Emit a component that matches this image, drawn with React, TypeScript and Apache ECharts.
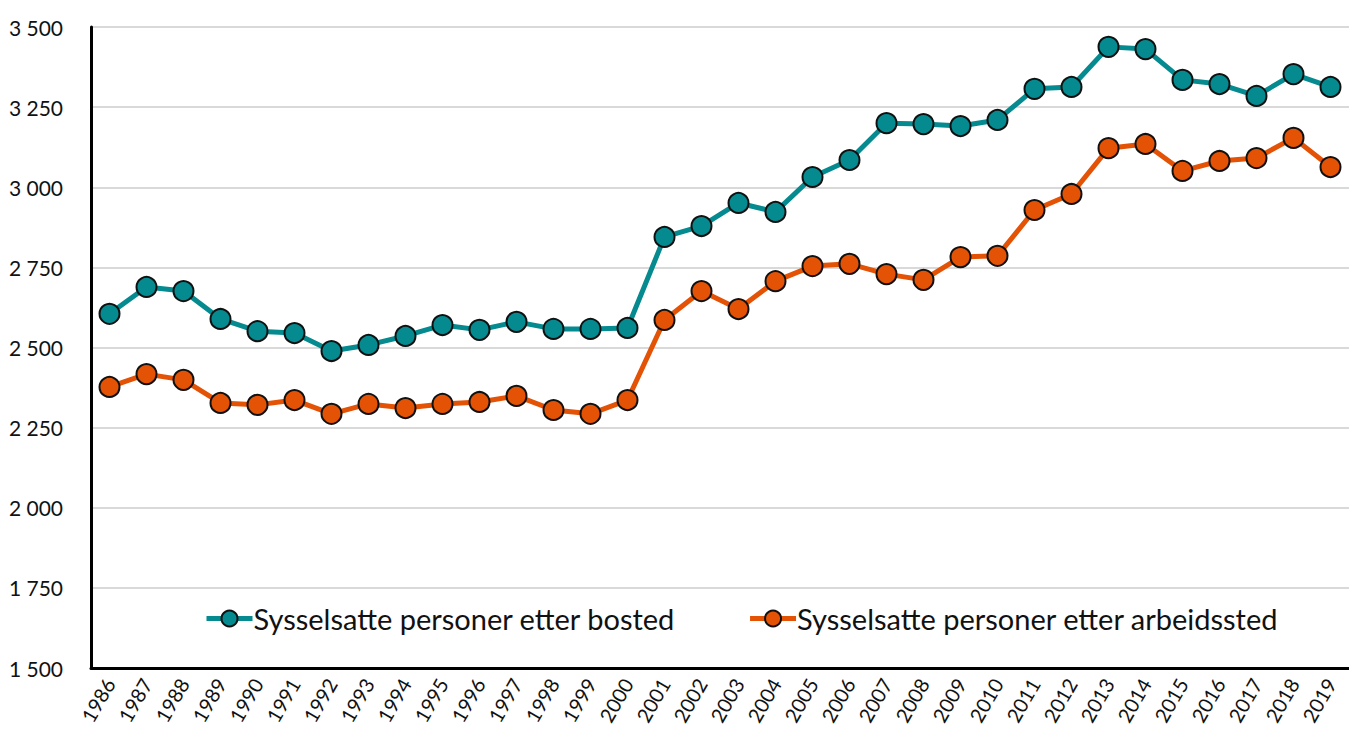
import React, { useEffect, useRef } from "react";
import * as echarts from "echarts";

const years = [
  "1986", "1987", "1988", "1989", "1990", "1991", "1992", "1993", "1994", "1995",
  "1996", "1997", "1998", "1999", "2000", "2001", "2002", "2003", "2004", "2005",
  "2006", "2007", "2008", "2009", "2010", "2011", "2012", "2013", "2014", "2015",
  "2016", "2017", "2018", "2019",
];

const bosted = [
  2605, 2689, 2676, 2589, 2551, 2545, 2489, 2508, 2536, 2570,
  2555, 2580, 2558, 2558, 2561, 2845, 2879, 2951, 2923, 3032,
  3085, 3200, 3197, 3191, 3210, 3307, 3313, 3438, 3431, 3335,
  3322, 3285, 3353, 3313,
];

const arbeidssted = [
  2377, 2417, 2399, 2327, 2321, 2336, 2293, 2324, 2311, 2324,
  2330, 2349, 2305, 2293, 2336, 2586, 2676, 2620, 2707, 2754,
  2761, 2729, 2711, 2782, 2786, 2929, 2979, 3122, 3135, 3051,
  3082, 3091, 3154, 3063,
];

const seriesNames = [
  "Sysselsatte personer etter bosted",
  "Sysselsatte personer etter arbeidssted",
];

const FONT = "Lato, 'Open Sans', sans-serif";

export default function App() {
  const ref = useRef<HTMLDivElement>(null);

  useEffect(() => {
    if (!ref.current) return;
    const chart = echarts.init(ref.current, undefined, { renderer: "svg" });
    const fmt = (v: number) => String(v).replace(/\B(?=(\d{3})+(?!\d))/g, " ");
    chart.setOption({
      animation: false,
      backgroundColor: "#ffffff",
      textStyle: { fontFamily: FONT },
      grid: { left: 91, top: 27, width: 1267, height: 641, containLabel: false },
      legend: {
        left: 199,
        top: 599,
        itemWidth: 46,
        itemHeight: 20,
        itemGap: 72,
        lineStyle: { width: 5 },
        textStyle: { fontSize: 29, color: "#111", fontFamily: FONT, padding: [0, 0, 0, -4] },
        data: seriesNames,
      },
      xAxis: {
        type: "category",
        data: years,
        boundaryGap: true,
        axisLine: { show: true, lineStyle: { color: "#000", width: 3 } },
        axisTick: { show: false },
        axisLabel: {
          interval: 0,
          rotate: 60,
          fontSize: 20,
          color: "#111",
          margin: 12,
          fontFamily: FONT,
        },
        splitLine: { show: false },
      },
      yAxis: {
        type: "value",
        min: 1500,
        max: 3500,
        interval: 250,
        axisLine: { show: true, lineStyle: { color: "#000", width: 3 } },
        axisTick: { show: false },
        axisLabel: {
          formatter: fmt,
          fontSize: 21,
          color: "#111",
          margin: 28,
          fontFamily: FONT,
        },
        splitLine: { show: true, lineStyle: { color: "#D9D9D9", width: 2 } },
      },
      series: [
        {
          name: seriesNames[0],
          type: "line",
          data: bosted,
          symbol: "circle",
          symbolSize: 20,
          lineStyle: { color: "#048A8F", width: 5 },
          itemStyle: { color: "#048A8F", borderColor: "#111", borderWidth: 2 },
          z: 3,
        },
        {
          name: seriesNames[1],
          type: "line",
          data: arbeidssted,
          symbol: "circle",
          symbolSize: 20,
          lineStyle: { color: "#E35205", width: 5 },
          itemStyle: { color: "#E35205", borderColor: "#111", borderWidth: 2 },
          z: 2,
        },
      ],
    });
    return () => chart.dispose();
  }, []);

  return (
    <div
      ref={ref}
      style={{ position: "fixed", left: 0, top: 0, width: 1349, height: 733, overflow: "hidden" }}
    />
  );
}
